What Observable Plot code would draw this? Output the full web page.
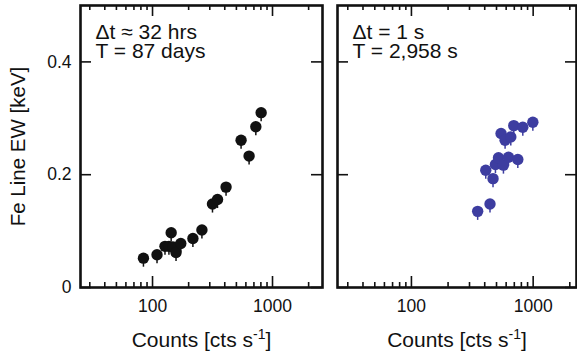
<!DOCTYPE html>
<html><head><meta charset="utf-8">
<script src="https://cdn.jsdelivr.net/npm/d3@7"></script>
<script src="https://cdn.jsdelivr.net/npm/@observablehq/plot@0.6"></script>
<style>
body{margin:0;background:#fff;}
#wrap{position:relative;width:577px;height:357px;overflow:hidden;}
#wrap svg{position:absolute;top:0;}
</style></head><body><div id="wrap"></div>
<script>
const leftCounts = [84,109,127,137,143,148,157,172,217,258,316,348,410,547,638,726,804];
const leftEW = [0.052,0.058,0.073,0.073,0.097,0.072,0.062,0.078,0.087,0.102,0.148,0.156,0.178,0.261,0.233,0.285,0.310];
const rightCounts = [350,442,408,468,490,519,570,627,748,545,588,655,693,822,994];
const rightEW = [0.135,0.148,0.208,0.193,0.218,0.230,0.217,0.231,0.227,0.273,0.261,0.267,0.287,0.284,0.293];
const errEW = 0.016;
const majorX = [100,1000];
const minorX = [30,40,50,60,70,80,90,200,300,400,500,600,700,800,900,2000];
const yTicks = [0,0.2,0.4];
const xTickLabels = ["100","1000"];
const yTickLabels = ["0","0.2","0.4"];
const yLabel = "Fe Line EW [keV]";
const xLabel = "Counts [cts s";
const xLabelSup = "-1";
const xLabelEnd = "]";
const notes = ["Δt ≈ 32 hrs\nT = 87 days", "Δt = 1 s\nT = 2,958 s"];
const colors = ["#111111", "#3d3da0"];

const H = 357, MT = 5, MB = 70;
const font = "'Liberation Sans', Arial, Helvetica, sans-serif";

function panel({counts, ew, color, note, left, width, marginLeft, marginRight, xDomain, showY}) {
  const frameH = H - MT - MB;
  const frameW = width - marginLeft - marginRight;
  const data = counts.map((c, i) => ({c, ew: ew[i]}));
  const minor = minorX.filter(v => v > xDomain[0] && v < xDomain[1]);
  const marks = [
    Plot.ruleX(data, {x: "c", y1: d => d.ew - errEW, y2: d => d.ew, stroke: color, strokeWidth: 1.5}),
    Plot.dot(data, {x: "c", y: "ew", r: 5.7, fill: color, stroke: "none"}),
    Plot.ruleX(majorX, {x: d => d, insetTop: frameH - 11, strokeWidth: 1.6}),
    Plot.ruleX(majorX, {x: d => d, insetBottom: frameH - 11, strokeWidth: 1.6}),
    Plot.ruleX(minor, {x: d => d, insetTop: frameH - 5, strokeWidth: 1.6}),
    Plot.ruleX(minor, {x: d => d, insetBottom: frameH - 5, strokeWidth: 1.6}),
    Plot.ruleY(yTicks, {y: d => d, insetRight: frameW - 11, strokeWidth: 1.6}),
    Plot.ruleY(yTicks, {y: d => d, insetLeft: frameW - 11, strokeWidth: 1.6}),
    Plot.frame({stroke: "#111", strokeWidth: 2.6}),
    Plot.axisX(majorX, {tickSize: 0, tickPadding: 12, tickFormat: d => xTickLabels[majorX.indexOf(d)], fontSize: 17.5, label: null}),
    Plot.text([note], {text: d => d, frameAnchor: "top-left", dx: 15, dy: 20, textAnchor: "start", lineAnchor: "top", lineHeight: 0.9, fontSize: 21}),
    Plot.text([xLabel], {text: d => d, frameAnchor: "bottom", dy: 59, lineAnchor: "bottom", fontSize: 21})
  ];
  if (showY) {
    marks.push(Plot.axisY(yTicks, {tickSize: 0, tickPadding: 9, tickFormat: d => yTickLabels[yTicks.indexOf(d)], fontSize: 17.5, label: null}));
    marks.push(Plot.text([yLabel], {text: d => d, frameAnchor: "left", dx: -62, textAnchor: "middle", rotate: -90, fontSize: 20.5}));
  }
  const svg = Plot.plot({
    width, height: H, marginLeft, marginRight, marginTop: MT, marginBottom: MB,
    x: {type: "log", domain: xDomain},
    y: {domain: [0, 0.5], axis: showY ? undefined : null},
    style: {fontFamily: font, color: "#111", background: "transparent", overflow: "visible"},
    marks
  });
  d3.select(svg).selectAll("text").filter(function () { return this.textContent === xLabel; })
    .each(function () {
      const t = d3.select(this);
      t.append("tspan").attr("dy", -8).attr("font-size", 14).text(xLabelSup);
      t.append("tspan").attr("dy", 8).text(xLabelEnd);
    });
  svg.style.left = left + "px";
  document.getElementById("wrap").appendChild(svg);
}

panel({counts: leftCounts, ew: leftEW, color: colors[0], note: notes[0], left: 0, width: 330, marginLeft: 80, marginRight: 8, xDomain: [25.1, 2610], showY: true});
panel({counts: rightCounts, ew: rightEW, color: colors[1], note: notes[1], left: 330, width: 247, marginLeft: 7, marginRight: 1, xDomain: [24.7, 2270], showY: false});
</script>
</body></html>
